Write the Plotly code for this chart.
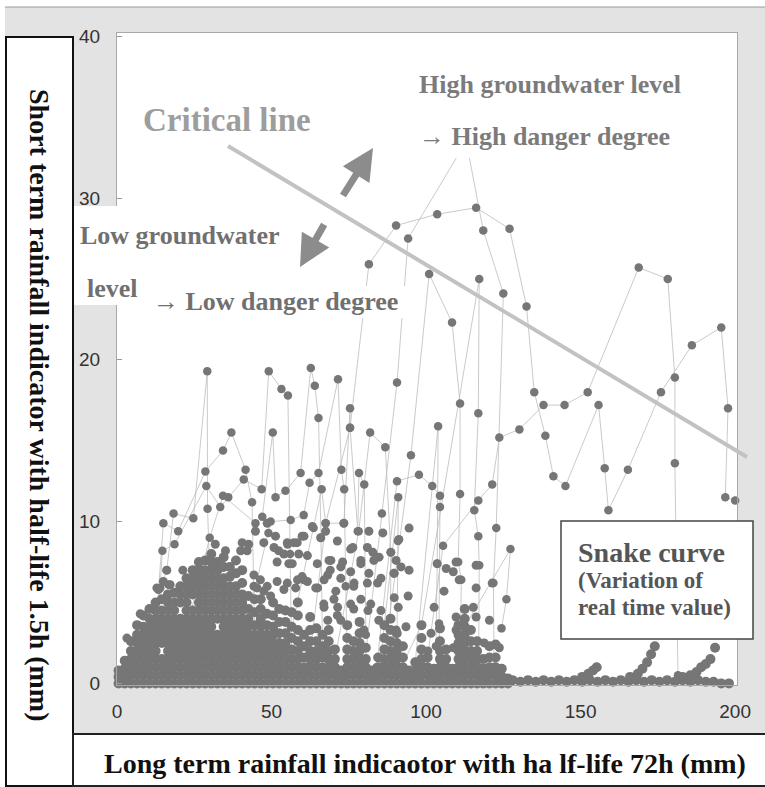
import plotly.graph_objects as go

# ---------------- data ----------------
# dense low-value cloud: column x positions and the y values stacked in each
blob_x = [0.5, 2.5, 4.5, 6.5, 8.5, 10.5, 12.5, 14.5, 16.5, 18.5, 20.5, 22.5, 24.5, 26.5,
          28.5, 30.5, 32.5, 34.5, 36.5, 38.5, 40.5, 42.5, 44.5, 46.5, 48.5, 50.5, 52.5,
          54.5, 56.5, 58.5, 60.5, 62.5, 64.5, 66.5, 68.5, 70.5, 72.5, 74.5, 76.5, 78.5,
          80.5, 82.5, 84.5, 86.5, 88.5, 90.5, 92.5, 94.5, 96.5, 98.5, 100.5, 102.5,
          104.5, 106.5, 108.5, 110.5, 112.5, 114.5, 116.5, 118.5, 120.5, 122.5, 124.5, 126.5]
blob_ys = [
    [0, 0.4, 0.8],
    [0, 0.4, 0.9, 1.4],
    [0, 0.5, 1.0, 1.5, 2.0, 2.6],
    [0, 0.5, 1.0, 1.5, 2.0, 2.5, 3.0, 3.6],
    [0, 0.5, 1.0, 1.5, 2.0, 2.5, 3.0, 3.5, 4.2],
    [0, 0.5, 1.0, 1.5, 2.0, 2.5, 3.0, 3.5, 4.0, 4.6],
    [0, 0.5, 1.0, 1.5, 2.0, 2.5, 3.0, 3.5, 4.0, 4.5, 5.0],
    [0, 0.5, 1.0, 1.5, 2.5, 3.0, 3.5, 4.0, 4.5, 5.2],
    [0, 0.5, 1.0, 1.5, 2.0, 2.5, 3.0, 3.5, 4.0, 4.5, 5.0, 5.5],
    [0, 0.5, 1.0, 1.5, 2.0, 2.5, 3.0, 3.5, 4.0, 4.5, 5.0, 5.6],
    [0, 0.5, 1.0, 1.5, 2.0, 2.5, 3.0, 3.5, 4.0, 5.0, 5.5, 6.0],
    [0, 0.5, 1.0, 1.5, 2.0, 2.5, 3.0, 3.5, 4.0, 4.5, 5.0, 5.5, 6.0, 6.5],
    [0, 0.5, 1.0, 1.5, 2.0, 2.5, 3.0, 3.5, 4.0, 4.5, 5.5, 6.0, 6.5, 7.0],
    [0, 0.5, 1.0, 1.5, 2.0, 2.5, 3.0, 3.5, 4.0, 4.5, 5.0, 5.5, 6.0, 6.5, 7.0, 7.5],
    [0, 0.5, 1.0, 1.5, 2.0, 2.5, 3.0, 3.5, 4.0, 4.5, 5.0, 5.5, 6.0, 6.5, 7.0, 7.6],
    [0, 0.5, 1.0, 1.5, 2.0, 2.5, 3.0, 3.5, 4.0, 4.5, 5.0, 5.5, 6.0, 6.5, 7.0, 7.5, 8.0],
    [0, 0.5, 1.0, 1.5, 2.0, 2.5, 3.0, 4.0, 4.5, 5.0, 5.5, 6.0, 6.5, 7.0, 7.5],
    [0, 0.5, 1.0, 1.5, 2.0, 2.5, 3.0, 3.5, 4.0, 4.5, 5.0, 5.5, 6.0, 6.5, 7.2, 7.8],
    [0, 0.5, 1.0, 1.5, 2.0, 2.5, 3.0, 3.5, 4.0, 4.5, 5.0, 5.5, 6.0, 6.6, 7.2],
    [0, 0.5, 1.0, 1.5, 2.0, 2.5, 3.0, 3.5, 4.0, 4.5, 5.0, 5.5, 6.0, 6.8, 7.6],
    [0, 0.5, 1.0, 1.5, 2.0, 2.5, 3.0, 3.5, 4.0, 4.5, 5.0, 5.5, 6.2, 7.0],
    [0, 0.5, 1.0, 1.5, 2.0, 2.5, 3.0, 3.5, 4.0, 4.6, 5.4],
    [0, 0.5, 1.0, 1.5, 2.0, 2.5, 3.0, 3.6, 4.4, 5.2],
    [0, 0.5, 1.0, 1.5, 2.0, 2.5, 3.0, 3.5, 4.0, 4.6, 5.2],
    [0, 0.5, 1.0, 1.5, 2.0, 2.5, 3.0, 3.6, 4.3],
    [0, 0.5, 1.0, 1.5, 2.0, 2.5, 3.0, 3.5, 4.2, 5.0],
    [0, 0.5, 1.0, 1.5, 2.0, 2.5, 3.1, 3.8, 4.6],
    [0, 0.5, 1.0, 1.5, 2.0, 2.5, 3.1, 3.8, 4.5],
    [0, 0.5, 1.0, 1.5, 2.1, 2.8, 3.5, 4.4],
    [0, 0.5, 1.0, 1.5, 2.0, 2.6, 3.3, 4.2, 5.0],
    [0, 0.5, 1.0, 1.6, 2.3, 3.0],
    [0, 0.5, 1.0, 1.5, 2.0, 2.6, 3.3, 4.1],
    [0, 0.5, 1.0, 1.5, 2.0, 2.6, 3.4],
    [0, 0.5, 1.0, 1.6, 2.3, 3.0],
    [0, 0.5, 1.0, 1.5, 2.0, 2.6, 3.3],
    [0, 0.5, 1.0, 1.5, 2.1],
    [0, 0.4, 0.8],
    [0, 0.5, 1.0, 1.5, 2.1, 2.8, 3.6],
    [0, 0.5, 1.0, 1.5, 2.0, 2.6],
    [0, 0.5, 1.0, 1.5, 2.0, 2.5, 3.1, 3.8],
    [0, 0.5, 1.0, 1.5, 2.2],
    [0, 0.4, 0.8],
    [0, 0.5, 1.0, 1.6],
    [0, 0.5, 1.0, 1.5, 2.1, 2.8, 3.6],
    [0, 0.5, 1.0, 1.5, 2.0, 2.6, 3.3, 4.0],
    [0, 0.5, 1.0, 1.5, 2.0, 2.5, 3.1],
    [0, 0.5, 1.0, 1.6, 2.3],
    [0, 0.4, 0.8],
    [0, 0.4, 0.8, 1.3],
    [0, 0.5, 1.0, 1.5, 2.1, 2.8, 3.6],
    [0, 0.5, 1.0, 1.6],
    [0, 0.4, 0.9],
    [0, 0.5, 1.0, 1.5, 2.0, 2.6, 3.4],
    [0, 0.5, 1.0, 1.5, 2.1],
    [0, 0.4, 0.9],
    [0, 0.5, 1.0, 1.5, 2.0, 2.5, 3.0, 3.6],
    [0, 0.5, 1.0, 1.5, 2.0, 2.5, 3.0, 3.5, 4.0, 4.6],
    [0, 0.5, 1.0, 1.5, 2.0, 2.6, 3.3],
    [0, 0.5, 1.0, 1.5, 2.0, 2.6],
    [0, 0.4, 0.9, 1.5],
    [0, 0.5, 1.0, 1.6, 2.3],
    [0, 0.5, 1.0, 1.6, 2.4],
    [0, 0.4, 0.9],
    [0, 0.3],
]

# low baseline band of near-zero values and the small rising tails on the right
base_x = [128, 130.5, 133, 135.5, 138, 140.5, 143, 145.5, 148, 150.5, 153, 155.5, 158,
          160.5, 163, 165.5, 168, 170.5, 173, 175.5, 178, 180.5, 183, 185.5, 188, 190.5,
          193, 195.5, 198]
base_y = [0.2, 0.1, 0.2, 0.1, 0.2, 0.1, 0.2, 0.1, 0.2, 0.1, 0.2, 0.1, 0.2,
          0.1, 0.2, 0.1, 0.2, 0.1, 0.2, 0.1, 0.2, 0.1, 0.2, 0.1, 0.2, 0.1,
          0.1, 0.0, 0.0]
tail_x = [150.5, 152.5, 154.0, 155.2, 166.0, 168.5, 170.0, 171.5, 172.8, 174.0,
          183.0, 185.5, 187.5, 189.0, 190.5, 192.0, 193.5]
tail_y = [0.4, 0.6, 0.8, 1.0, 0.4, 0.6, 0.9, 1.3, 1.8, 2.3,
          0.4, 0.5, 0.7, 1.0, 1.2, 1.5, 2.2]

# scattered medium values
mid_x = [52.3, 47.5, 42.6, 40.0, 55.2, 57.2, 58.8, 55.6, 58.4, 68.6, 69.0, 72.4, 75.6, 78.9,
         76.7, 81.0, 84.3, 84.8, 81.0, 75.6, 71.3, 65.9, 60.5, 70.8, 64.9, 60.5, 55.1, 46.4,
         44.3, 47.5, 49.7, 70.2, 67.0, 71.3, 75.6, 78.9, 82.1, 85.4, 89.7, 89.7, 90.3,
         94.5, 91.2, 88.6, 94.5, 91.9, 89.6, 94.2, 91.0, 93.5, 90.3, 103.6, 106.5, 109.7,
         108.8, 110.7, 105.8, 102.6, 101.6, 109.7, 109.7, 108.8, 116.2, 121.4, 116.2, 115.3,
         116.2, 120.5, 123.7, 118.8, 100.6,
         67.5, 73.4, 81.5, 86.0, 76.3, 82.8, 69.2, 73.0, 78.9, 83.1, 68.2, 72.4, 76.6, 81.5,
         85.4, 66.9, 71.4, 76.6, 81.2, 84.7, 68.2, 72.4, 79.9,
         31.8, 35.1, 40.5, 42.1, 44.8, 48.6, 51.3, 55.1, 58.3, 59.9, 63.2, 50.8, 54.0, 61.6,
         64.8, 51.8, 56.7, 59.9, 67.0, 64.3, 44.3, 45.3, 48.6, 51.8, 54.0, 57.8, 61.6,
         16.1, 16.7, 13.4, 15.0, 12.9, 17.2, 21.3, 7.5, 3.2]
mid_y = [8.2, 8.7, 8.6, 8.2, 8.6, 8.7, 8.0, 7.4, 6.4, 7.6, 7.0, 7.2, 6.9, 7.4,
         6.2, 6.2, 6.2, 7.8, 8.4, 8.3, 8.8, 9.0, 9.1, 5.7, 5.9, 6.4, 6.2, 6.4,
         6.0, 5.7, 5.4, 5.2, 4.7, 4.2, 4.9, 5.2, 4.9, 4.5, 5.3, 6.8, 7.6,
         9.6, 8.9, 8.1, 7.0, 7.2, 6.8, 5.4, 4.7, 3.5, 3.3, 7.4, 7.1, 7.5,
         6.9, 6.4, 5.7, 4.7, 3.1, 4.1, 3.3, 2.2, 7.3, 6.2, 5.9, 4.7,
         4.1, 3.9, 2.2, 2.5, 2.0,
         9.4, 9.9, 9.4, 9.3, 8.4, 8.1, 7.6, 7.5, 7.6, 7.6, 6.7, 6.5, 6.0, 6.8,
         6.5, 4.9, 4.7, 4.6, 4.5, 3.9, 3.9, 3.9, 3.3,
         8.6, 8.2, 8.7, 8.2, 9.4, 9.9, 9.1, 8.7, 8.7, 9.1, 9.7, 8.4, 8.0, 7.9,
         7.4, 7.5, 7.4, 6.6, 6.4, 5.9, 6.7, 5.9, 6.0, 6.3, 5.8, 5.9, 6.3,
         7.0, 6.1, 5.8, 6.3, 5.9, 6.1, 7.0, 4.3, 2.8]

# individual rainfall events (snake curves), each one a connected path
event_x = [
    [10, 14, 16.1, 18.3, 24.7, 29.2, 29.3, 30.5, 31],
    [12, 15, 19.8, 28.6, 34.3, 37, 41.6, 43.7, 44.5],
    [13, 14.7, 18.6, 28.9, 33.4, 36, 41, 46.8, 49.1, 53.2, 55.3, 56, 56.5],
    [22, 30, 34.3, 44.8, 47, 50.4, 51.3, 54.5, 59.4, 62.7, 64, 65.2, 66, 66.5],
    [40, 49, 49.7, 56.2, 60.4, 62.3, 65.2, 71.5, 72.6, 73.5, 74, 74.5],
    [55, 63.6, 66.2, 67.5, 73.4, 75.4, 75.4, 77.9, 78.3, 80, 80.5],
    [62, 67.5, 75.4, 81.5, 90.3, 103.6, 116.2, 127, 132.5, 135, 138.6, 141.2, 145.1,
     155.8, 157.8, 159, 165.3, 176, 186, 195.5, 197.7, 196.8, 200],
    [100, 105.5, 116.9, 121.4, 123.7, 130.2, 138, 144.8, 152.3, 168.8, 178.2, 180.5,
     180.5, 181, 181.5],
    [80, 85.7, 90.6, 94.2, 113, 118.5, 125, 122.7, 121.8, 122],
    [86, 95.1, 101, 108.4, 111, 111, 110.4, 111.4, 111],
    [92, 98.5, 117.2, 116.9, 115.6, 116.9, 117.2, 117],
    [84, 90.6, 97.7, 102, 104.5, 104.5, 104.2, 104.5],
    [85, 91, 90.9, 90.5],
    [96.5, 103.9, 103.6, 103.2],
    [112.5, 127.3, 126, 124.4],
    [70, 78.2, 81.9, 86.8, 88.6, 88.5],
]
event_y = [
    [1.0, 5.9, 7.0, 10.5, 10.2, 19.3, 10.8, 4.5, 1.0],
    [2.0, 9.9, 9.4, 13.1, 14.4, 15.5, 13.2, 11.2, 3.0],
    [3.0, 8.2, 8.6, 12.2, 10.9, 11.5, 12.6, 12.0, 19.3, 18.2, 17.8, 8.0, 2.0],
    [3.0, 9.0, 11.6, 9.9, 10.3, 15.5, 11.5, 11.9, 13.0, 19.5, 18.4, 16.4, 9.0, 2.0],
    [2.0, 9.3, 10.0, 10.1, 10.4, 12.4, 13.0, 18.8, 13.2, 12.0, 6.0, 1.0],
    [2.0, 9.6, 12.0, 9.9, 9.9, 17.0, 15.8, 9.4, 13.0, 12.3, 3.0],
    [1.0, 9.9, 15.8, 25.9, 28.3, 29.0, 29.4, 28.1, 23.3, 18.0, 15.3, 12.8, 12.2,
     17.2, 13.3, 10.7, 13.2, 18.0, 20.9, 22.0, 17.0, 11.5, 11.3],
    [1.0, 8.5, 11.3, 12.3, 15.2, 15.7, 17.2, 17.2, 18.0, 25.7, 25.0, 18.9,
     13.6, 6.0, 0.5],
    [1.0, 10.5, 18.6, 27.5, 33.5, 28.0, 24.1, 9.6, 6.2, 1.0],
    [1.0, 14.1, 25.3, 22.3, 17.3, 11.7, 7.5, 6.4, 1.0],
    [1.0, 3.6, 25.0, 16.7, 10.7, 9.1, 7.3, 1.0],
    [1.0, 12.5, 12.9, 12.2, 11.6, 10.9, 3.7, 1.0],
    [1.0, 11.5, 8.8, 1.0],
    [1.3, 15.9, 7.4, 2.3],
    [3.5, 8.3, 5.2, 3.4],
    [1.0, 9.4, 15.5, 14.6, 8.1, 4.0],
]

x_ticks = [0, 50, 100, 150, 200]
y_ticks = [0, 10, 20, 30, 40]

# ---------------- styling / layout helpers ----------------
W_PX, H_PX = 765, 787
L, R, T, B = 117, 737, 33, 685          # plot area in page pixels
PW, PH = R - L, B - T


def px(xp):
    return (xp - L) / PW


def py(yp):
    return (B - yp) / PH


MARK = "#767676"
LINE = "#bdbdbd"

fig = go.Figure()

for ex, ey in zip(event_x, event_y):
    fig.add_trace(go.Scatter(x=ex, y=ey, mode="lines",
                             line=dict(color=LINE, width=0.8),
                             hoverinfo="skip", showlegend=False))

bx, by = [], []
for xv, ys in zip(blob_x, blob_ys):
    for yv in ys:
        bx.append(xv)
        by.append(yv)

fig.add_trace(go.Scatter(x=bx + base_x + tail_x, y=by + base_y + tail_y,
                         mode="markers", marker=dict(color=MARK, size=10),
                         cliponaxis=False, showlegend=False))
fig.add_trace(go.Scatter(x=mid_x, y=mid_y,
                         mode="markers", marker=dict(color=MARK, size=9),
                         cliponaxis=False, showlegend=False))

for ex, ey in zip(event_x, event_y):
    fig.add_trace(go.Scatter(x=ex, y=ey, mode="markers",
                             marker=dict(color=MARK, size=8.5),
                             cliponaxis=False, showlegend=False))

shapes = []
# white page edges
shapes.append(dict(type="rect", xref="paper", yref="paper", x0=px(-2), x1=px(5),
                   y0=py(790), y1=py(-2), fillcolor="white", line_width=0, layer="below"))
shapes.append(dict(type="rect", xref="paper", yref="paper", x0=px(-2), x1=px(770),
                   y0=py(7), y1=py(-2), fillcolor="white", line_width=0, layer="below"))
shapes.append(dict(type="line", xref="paper", yref="paper", x0=px(5), x1=px(770),
                   y0=py(7), y1=py(7), line=dict(color="#9a9a9a", width=1), layer="below"))
# left (y title) box and bottom (x title) box
shapes.append(dict(type="rect", xref="paper", yref="paper", x0=px(6), x1=px(73),
                   y0=py(786), y1=py(37), fillcolor="white",
                   line=dict(color="#111111", width=2), layer="below"))
shapes.append(dict(type="rect", xref="paper", yref="paper", x0=px(73), x1=px(770),
                   y0=py(786), y1=py(734), fillcolor="white",
                   line=dict(color="#222222", width=2), layer="below"))
# white backing behind the "Low groundwater level" texts
shapes.append(dict(type="rect", xref="paper", yref="paper", x0=px(74), x1=px(128),
                   y0=py(305), y1=py(206), fillcolor="white", line_width=0, layer="above"))
shapes.append(dict(type="rect", xref="paper", yref="paper", x0=px(140), x1=px(405),
                   y0=py(318), y1=py(286), fillcolor="white", line_width=0, layer="above"))
# white backing behind the "High groundwater level" texts
shapes.append(dict(type="rect", xref="paper", yref="paper", x0=px(410), x1=px(690),
                   y0=py(158), y1=py(60), fillcolor="white", line_width=0, layer="above"))
# critical line
shapes.append(dict(type="line", xref="paper", yref="paper", x0=px(228), y0=py(146),
                   x1=px(747), y1=py(457), line=dict(color="#c2c2c2", width=4),
                   layer="above"))
# snake curve box
shapes.append(dict(type="rect", xref="paper", yref="paper", x0=px(561), x1=px(753),
                   y0=py(639), y1=py(521), fillcolor="white",
                   line=dict(color="#444444", width=1.5), layer="above"))

SERIF = "Liberation Serif"
ann = []


def label(text, xp, yp, size, color, xanchor="left", angle=0):
    ann.append(dict(text=text, xref="paper", yref="paper", x=px(xp), y=py(yp),
                    xanchor=xanchor, yanchor="middle", showarrow=False, textangle=angle,
                    font=dict(family=SERIF, size=size, color=color)))


label("<b>Critical line</b>", 141, 120, 33, "#9d9d9d")
label("<b>High groundwater level</b>", 417, 85, 26, "#7b7b7b")
label("<b>→ High danger degree</b>", 417, 137, 26, "#7b7b7b")
label("<b>Low groundwater</b>", 78, 235, 26, "#707070")
label("<b>level</b>", 85, 288, 26, "#707070")
label("<b>→ Low danger degree</b>", 151, 302, 26, "#707070")
label("<b>Snake curve</b>", 576, 552, 28, "#555555")
label("<b>(Variation of</b>", 576, 580, 23, "#555555")
label("<b>real time value)</b>", 576, 607, 23, "#555555")
label("<b>Short term rainfall indicator with half-life 1.5h (mm)</b>", 40, 405, 28,
      "#111111", xanchor="center", angle=90)
label("<b>Long term rainfall indicaotor with ha lf-life 72h (mm)</b>", 425, 763, 28,
      "#111111", xanchor="center")

# thick arrows
ann.append(dict(text="", xref="paper", yref="paper", x=px(373), y=py(148),
                ax=-31, ay=49, showarrow=True, arrowhead=2, arrowsize=0.9,
                arrowwidth=7, arrowcolor="#8c8c8c"))
ann.append(dict(text="", xref="paper", yref="paper", x=px(300), y=py(267),
                ax=25, ay=-44, showarrow=True, arrowhead=2, arrowsize=0.9,
                arrowwidth=7, arrowcolor="#8c8c8c"))

fig.update_layout(
    width=W_PX, height=H_PX,
    margin=dict(l=L, r=W_PX - R, t=T, b=H_PX - B, pad=0),
    paper_bgcolor="#e3e3e3", plot_bgcolor="white",
    shapes=shapes, annotations=ann, showlegend=False,
    xaxis=dict(range=[0, 200.6], tickvals=x_ticks, showgrid=False, zeroline=False,
               showline=True, linecolor="#a8a8a8", linewidth=1, mirror=True,
               ticks="", ticklabelstandoff=9,
               tickfont=dict(family="Liberation Sans", size=19, color="#333333")),
    yaxis=dict(range=[-0.1, 40.2], tickvals=y_ticks, showgrid=False, zeroline=False,
               showline=True, linecolor="#a8a8a8", linewidth=1, mirror=True,
               ticks="inside", ticklen=5, tickcolor="#999999", ticklabelstandoff=12,
               tickfont=dict(family="Liberation Sans", size=19, color="#333333")),
)

fig.write_html("out.html", config={"displayModeBar": False},
               post_script="document.body.style.margin='0';")
